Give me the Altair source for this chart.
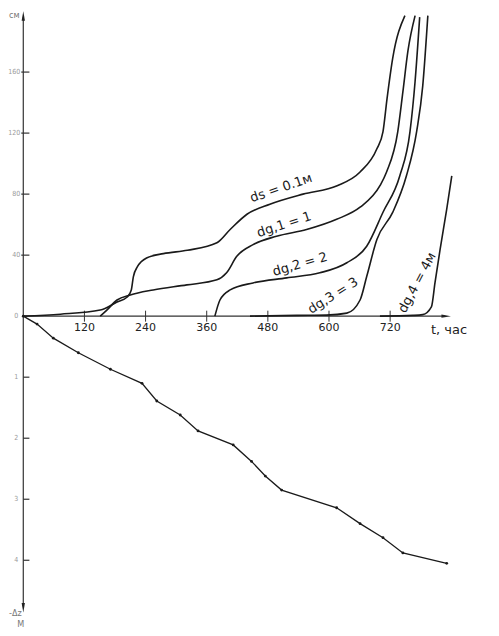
import altair as alt
import pandas as pd

# ---- upper curves: swelling/heave (cm) vs time t (hours) ----
ds_t = [0, 73, 151, 184, 204, 212, 216, 224, 243, 275, 322, 380, 406, 439, 484, 549, 616, 661, 694, 706, 714, 725, 749]
ds_h = [0, 1.3, 4.0, 9.3, 12.6, 17.2, 25.8, 32.4, 38.3, 41.0, 43.2, 48.1, 56.8, 66.8, 73.4, 80.0, 85.5, 94.5, 109.7, 121, 142.8, 169, 197]

dg1_t = [151, 164, 184, 210, 255, 321, 380, 399, 419, 451, 497, 556, 615, 661, 700, 713, 735, 745, 755, 769]
dg1_h = [0, 4.0, 10.6, 13.9, 17.2, 20.5, 23.8, 28.4, 39.2, 46.9, 52.4, 56.8, 63.5, 71.4, 85.5, 94.5, 121, 147, 174, 197]

dg2_t = [376, 386, 406, 451, 517, 582, 635, 674, 706, 739, 759, 769, 778]
dg2_h = [0, 10.6, 17.2, 21.8, 25.1, 28.4, 35.0, 45.8, 68.1, 92.1, 121, 154, 196]

dg3_t = [445, 537, 595, 635, 661, 674, 694, 725, 752, 772, 784, 794]
dg3_h = [0, 0.5, 0.7, 2.0, 10.6, 26, 50.2, 68, 92, 121, 151, 197]

dg4_t = [700, 765, 784, 801, 808, 818, 831, 841]
dg4_h = [0, 0.5, 1.0, 6.1, 21.8, 43.6, 70, 92]

# ---- lower curve: settlement (m) vs time ----
lo_t = [0, 27, 59, 108, 171, 233, 262, 308, 343, 412, 448, 475, 507, 615, 661, 706, 745, 831]
lo_m = [0, 0.13, 0.36, 0.60, 0.87, 1.10, 1.39, 1.62, 1.88, 2.11, 2.38, 2.62, 2.85, 3.14, 3.40, 3.63, 3.88, 4.05]

curve_names = ["ds", "dg1", "dg2", "dg3", "dg4"]
curve_labels = ["ds = 0.1м", "dg,1 = 1", "dg,2 = 2", "dg,3 = 3", "dg,4 = 4м"]
label_t = [506, 512, 543, 608, 773]
label_cm = [84, 60, 34, 13.5, 22]
label_angle = [341, 342, 344, 328, 298]

x_ticks = [120, 240, 360, 480, 600, 720]
up_ticks_cm = [40, 80, 120, 160]
lo_ticks_m = [1, 2, 3, 4]

CM_PER_UNIT = 40.0

rows = []
for name, ts, hs in zip(curve_names, [ds_t, dg1_t, dg2_t, dg3_t, dg4_t],
                        [ds_h, dg1_h, dg2_h, dg3_h, dg4_h]):
    for i, (t, h) in enumerate(zip(ts, hs)):
        rows.append({"curve": name, "i": i, "t": t, "u": h / CM_PER_UNIT})
up_df = pd.DataFrame(rows)
lo_df = pd.DataFrame({"t": lo_t, "u": [-m for m in lo_m], "i": range(len(lo_t))})

xs = alt.Scale(domain=[-30, 916])
ys = alt.Scale(domain=[-5.11, 5.05])
X = lambda f="t": alt.X(f, type="quantitative", scale=xs, axis=None)
Y = lambda f="u": alt.Y(f, type="quantitative", scale=ys, axis=None)

INK = "#1a1a1a"

up_lines = alt.Chart(up_df).mark_line(color=INK, strokeWidth=1.6, interpolate="monotone").encode(
    x=X(), y=Y(), detail="curve:N", order="i:Q")
lo_line = alt.Chart(lo_df).mark_line(color=INK, strokeWidth=1.3).encode(x=X(), y=Y(), order="i:Q")
lo_pts = alt.Chart(lo_df).mark_circle(color=INK, size=8, opacity=1).encode(x=X(), y=Y())

# axes
axis_df = pd.DataFrame({"t": [0, 0], "t2": [828, 0], "u": [0, -4.75], "u2": [0, 4.9]})
axes = alt.Chart(axis_df).mark_rule(color="#333", strokeWidth=1.2).encode(
    x=X(), x2="t2:Q", y=Y(), y2="u2:Q")

xt_df = pd.DataFrame({"t": x_ticks, "u": [-0.09] * 6, "u2": [0.09] * 6,
                      "lab": [str(v) for v in x_ticks], "ul": [-0.2] * 6})
xticks = alt.Chart(xt_df).mark_rule(color="#333", strokeWidth=1).encode(x=X(), y=Y(), y2="u2:Q")
xlabels = alt.Chart(xt_df).mark_text(font="DejaVu Sans", fontSize=11, color="#222", baseline="middle").encode(
    x=X(), y=Y("ul"), text="lab:N")

ut_df = pd.DataFrame({"u": [v / CM_PER_UNIT for v in up_ticks_cm], "t": [-4] * 4, "t2": [12] * 4,
                      "lab": [str(v) for v in up_ticks_cm], "tl": [-4] * 4})
lt_df = pd.DataFrame({"u": [-v for v in lo_ticks_m], "t": [0] * 4, "t2": [12] * 4,
                      "lab": [str(v) for v in lo_ticks_m], "tl": [-8] * 4})
yticks = alt.Chart(pd.concat([ut_df, lt_df])).mark_rule(color="#333", strokeWidth=1.2).encode(
    x=X(), x2="t2:Q", y=Y())
ylabels = alt.Chart(pd.concat([ut_df, lt_df, pd.DataFrame({"u": [0], "tl": [-8], "lab": ["0"]})])).mark_text(
    font="DejaVu Sans Condensed", fontSize=7, color="#9a9a9a", baseline="middle", align="right", dx=-1).encode(
    x=X("tl"), y=Y(), text="lab:N")

# arrow heads
arr_up = alt.Chart(pd.DataFrame({"t": [0], "u": [4.92]})).mark_point(
    shape="M -0.35 1 L 0 -1 L 0.35 1 Z", filled=True, color="#222", size=90, opacity=1).encode(x=X(), y=Y())
arr_dn = alt.Chart(pd.DataFrame({"t": [0], "u": [-4.78]})).mark_point(
    shape="M -0.35 -1 L 0 1 L 0.35 -1 Z", filled=True, color="#222", size=90, opacity=1).encode(x=X(), y=Y())
arr_rt = alt.Chart(pd.DataFrame({"t": [830], "u": [0]})).mark_point(
    shape="M -1 -0.35 L 1 0 L -1 0.35 Z", filled=True, color="#222", size=90, opacity=1).encode(x=X(), y=Y())

# axis titles
x_title = alt.Chart(pd.DataFrame({"t": [800], "u": [-0.23], "lab": ["t, час"]})).mark_text(
    font="DejaVu Sans", fontSize=13, align="left", baseline="middle", color="#222").encode(
    x=X(), y=Y(), text="lab:N")
y_titles = alt.Chart(pd.DataFrame({"t": [-28, -28, -12], "u": [4.93, -4.87, -5.04],
                                   "lab": ["см", "-Δz", "М"]})).mark_text(
    font="DejaVu Sans Condensed", fontSize=9, color="#777", baseline="middle", align="left").encode(
    x=X(), y=Y(), text="lab:N")

# curve labels
lab_layers = []
for lab, t, cm, ang in zip(curve_labels, label_t, label_cm, label_angle):
    d = pd.DataFrame({"t": [t], "u": [cm / CM_PER_UNIT], "lab": [lab]})
    lab_layers.append(alt.Chart(d).mark_text(font="DejaVu Sans", fontSize=13, angle=ang,
                                             color=INK, baseline="middle").encode(x=X(), y=Y(), text="lab:N"))

chart = alt.layer(axes, xticks, yticks, arr_up, arr_dn, arr_rt, up_lines, lo_line, lo_pts,
                  xlabels, ylabels, x_title, y_titles, *lab_layers).properties(
    width=482, height=620, padding=0, autosize=alt.AutoSizeParams(type="none"),
    background="white").configure_view(stroke=None)

chart.save("out.html", embed_options={"renderer": "svg", "actions": False})
